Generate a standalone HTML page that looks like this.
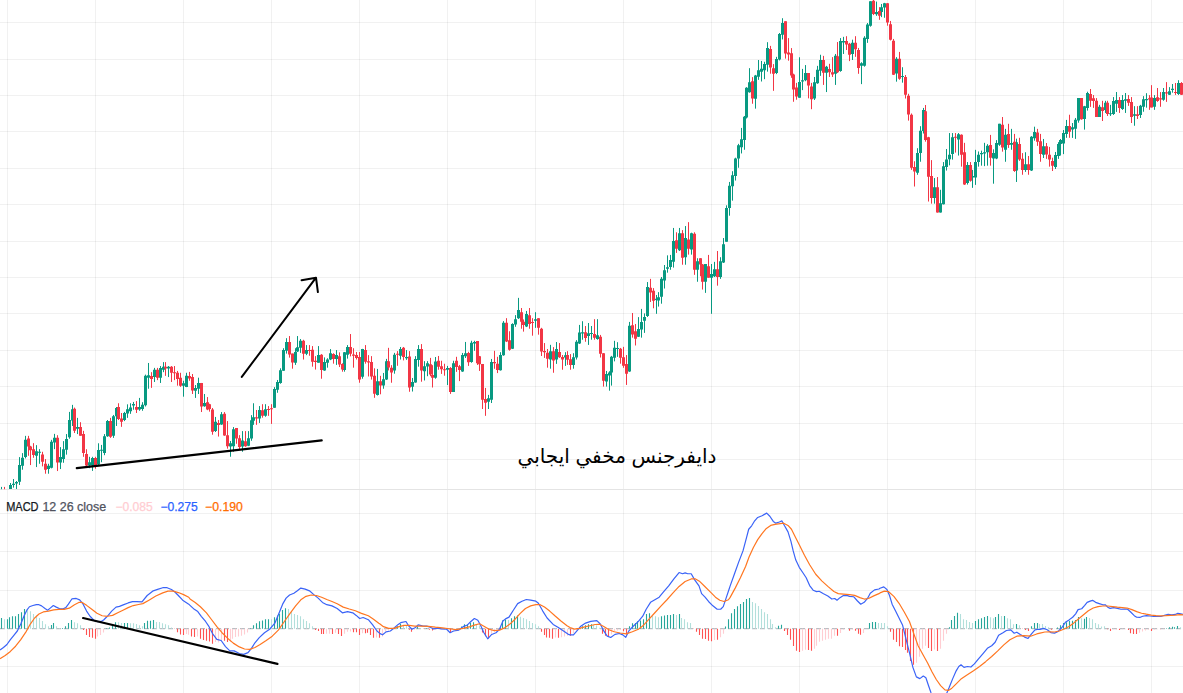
<!DOCTYPE html><html><head><meta charset="utf-8"><title>chart</title><style>html,body{margin:0;padding:0;background:#fff;overflow:hidden}body{width:1183px;height:693px;font-family:"Liberation Sans",sans-serif}</style></head><body><svg width="1183" height="693" viewBox="0 0 1183 693" style="display:block"><rect width="1183" height="693" fill="#fff"/><path d="M7.5 0V693M95.5 0V693M183.5 0V693M271.5 0V693M359.5 0V693M447.5 0V693M535.5 0V693M623.5 0V693M711.5 0V693M799.5 0V693M887.5 0V693M975.5 0V693M1063.5 0V693M1151.5 0V693M0 22.5H1183M0 59.5H1183M0 95.5H1183M0 131.5H1183M0 168.5H1183M0 204.5H1183M0 241.5H1183M0 277.5H1183M0 313.5H1183M0 350.5H1183M0 386.5H1183M0 423.5H1183M0 459.5H1183M0 513.5H1183M0 551.5H1183M0 590.5H1183M0 666.5H1183" stroke="#000" stroke-opacity="0.055" stroke-width="1" fill="none"/><path d="M0 489.5H1183" stroke="#e4e4e4" stroke-width="1" fill="none"/><path d="M1.5 486.9V489.2M10.5 483V488.98M13.5 479.02V487.65M16.5 481.01V488.98M19.5 457.1V484.99M22.5 453.12V469.72M25.5 435.86V458.43M36.5 445.15V467.07M39.5 449.14V463.75M48.5 463.75V473.71M51.5 439.84V468.39M54.5 433.86V449.14M60.5 447.14V469.06M63.5 441.13V462.77M66.5 434.09V454.65M69.5 411.9V438.74M72.5 404.87V425.97M77.5 417.86V434.09M89.5 456.82V468.18M92.5 456.82V470.89M98.5 443.29V464.94M101.5 444.91V462.23M104.5 434.09V455.19M107.5 420.02V436.8M113.5 414.94V437.88M116.5 407.03V425.97M124.5 411.9V421.1M127.5 404.33V417.86M130.5 403.25V413.85M133.5 401.95V409.74M139.5 397.92V410.79M142.5 402.21V410.79M145.5 374.62V406.5M148.5 362.97V388.72M154.5 367.88V381.98M160.5 366.04V382.96M163.5 362.11V372.17M168.5 366.04V377.07M183.5 380.75V396.69M186.5 372.78V387.13M195.5 385.04V397.92M198.5 377.69V393.99M204.5 393.99V406.75M215.5 416.93V432.01M221.5 412.07V424.83M230.5 440.97V456.73M233.5 427.08V451.75M242.5 431.12V451.75M248.5 431.12V446.13M251.5 415.17V440.78M253.5 403.26V424.83M259.5 406.07V422.95M265.5 404.19V416.76M274.5 387.13V407.84M277.5 379.98V392.78M280.5 368.3V383.74M283.5 348.22V370.81M286.5 338.18V353.62M295.5 348.22V364.91M297.5 336.05V351.99M300.5 339.06V352.86M306.5 345.08V355.12M318.5 346.09V362.66M324.5 357.38V370.81M327.5 358.26V367.68M330.5 349.1V360.14M336.5 350.1V364.91M344.5 351.99V371.69M347.5 345.08V358.64M362.5 348.85V378.72M377.5 368.93V395.54M383.5 372.95V388.76M386.5 358.89V379.98M394.5 352.86V373.7M400.5 346.97V359.52M406.5 350.1V359.89M412.5 377.97V391.52M415.5 356.13V382.74M418.5 345.08V366.67M424.5 361.15V380.48M427.5 361.15V376.21M435.5 357.01V378.72M447.5 365.9V385.06M453.5 360.75V391.89M462.5 352.96V371.89M465.5 341.95V357.99M471.5 340.75V362.78M474.5 340.75V350.81M488.5 394.88V409.01M491.5 358.95V403.02M500.5 352.2V370.6M503.5 321.1V355.75M512.5 323.26V349.03M515.5 315.13V326.81M518.5 297.87V318.94M526.5 310.94V327.07M535.5 312.21V327.83M550.5 344.84V368.7M556.5 342.04V363.88M565.5 352.2V365.91M573.5 353.21V368.7M576.5 340.14V359.56M579.5 324.91V343.95M582.5 321.23V339.73M588.5 323.01V344.93M591.5 326.03V339.73M597.5 319.18V339.73M606.5 370.96V386.58M609.5 371.23V390.68M611.5 355.89V385.62M614.5 340.82V361.37M617.5 342.19V356.85M629.5 321.92V371.92M638.5 317.12V336.99M641.5 308.9V337.67M644.5 313.42V332.88M647.5 282.05V316.97M656.5 295.04V313.8M658.5 292.15V306.58M661.5 277V303.69M664.5 265.02V288.54M667.5 255.35V272.67M670.5 254.92V269.78M673.5 227.94V267.62M679.5 227.94V251.02M685.5 226.06V264.73M691.5 232.7V254.63M697.5 258.24V281.76M705.5 264.01V292.87M711.5 264.01V313.8M714.5 261.85V277M720.5 257.23V278.87M723.5 238.04V263M726.5 205.32V241.69M729.5 181.95V215.71M732.5 171.21V200.65M735.5 157.71V180.56M738.5 143.85V167.75M741.5 127.91V153.44M744.5 116.01V149.75M746.5 87.18V118.47M749.5 68.16V92.7M755.5 74.91V108.65M758.5 60V79.86M761.5 60.96V81.51M764.5 61.78V79.18M767.5 42.19V71.64M776.5 56.85V74.11M779.5 33.01V60.41M782.5 18.22V39.45M799.5 57.26V97.67M802.5 68.9V90.14M805.5 65.07V81.23M814.5 76.98V100M817.5 65.87V83.81M820.5 54.76V75.87M826.5 65.87V92.06M835.5 53.97V84.92M840.5 38.1V71.75M843.5 36.83V53.97M852.5 39.68V60M861.5 62.22V84.13M864.5 36.19V66.67M867.5 23.02V42.86M870.5 1.27V26.67M876.5 1.59V15.87M881.5 3.97V17.14M884.5 2.86V17.78M896.5 57.13V81.66M902.5 67.23V82.67M917.5 148.21V174.79M920.5 126.2V161.74M923.5 107.93V133.53M934.5 178.05V203.65M940.5 189.79V212.61M943.5 162.07V204.46M946.5 149.02V170.55M949.5 133.05V165.33M952.5 133.05V159.62M958.5 133.05V155.55M967.5 162.07V184.57M972.5 169.89V187.83M975.5 149.84V184.9M978.5 151.47V166.63M981.5 150.65V165.66M984.5 142.83V166.14M987.5 144.13V165.66M993.5 149.35V183.69M996.5 140.12V159.16M999.5 123.81V145.89M1005.5 128.86V161.76M1011.5 128.86V149.78M1016.5 138.67V181.96M1025.5 152.24V171.86M1031.5 136.08V171M1034.5 126.7V140.69M1043.5 138.96V158.01M1055.5 151.95V168.98M1058.5 142.14V158.87M1060.5 138.96V155.56M1063.5 130.01V154.11M1066.5 119.91V137.81M1072.5 123.03V137.88M1075.5 117.98V138.89M1078.5 98.08V122.73M1084.5 105.86V129.6M1087.5 91.72V110.61M1099.5 104.85V116.97M1105.5 100.81V112.93M1110.5 104.85V115.96M1113.5 97.07V114.95M1116.5 92.02V111.92M1122.5 95.05V109.9M1125.5 93.03V112.93M1134.5 106.16V125.76M1140.5 104.85V117.98M1143.5 96.15V111.73M1146.5 93.2V107.66M1154.5 95.11V109.83M1163.5 88.01V100.74M1169.5 87.14V94.94M1172.5 84.03V92.68M1178.5 80.22V94.94" stroke="#089981" stroke-width="1" fill="none"/><path d="M4.5 486.9V489.2M28.5 435.86V455.78M30.5 445.82V465.07M33.5 443.16V457.77M42.5 451.79V466.4M45.5 459.1V473.71M57.5 435.19V471.05M74.5 407.58V433.01M80.5 422.19V435.71M83.5 430.84V456.82M86.5 449.24V467.64M95.5 456.82V468.72M110.5 417.86V437.88M118.5 403.25V420.02M121.5 412.99V426.84M136.5 401.08V412.99M151.5 372.17V387.86M157.5 367.88V380.14M165.5 362.11V375.85M171.5 366.04V381.98M174.5 366.04V380.14M177.5 370.94V385.66M180.5 372.78V386.88M189.5 371.92V380.75M192.5 374.01V393.99M201.5 382.96V412.02M207.5 397.06V410.18M209.5 403.8V411.65M212.5 407.97V434.71M218.5 419.99V436.55M224.5 412.07V435.81M227.5 421.08V448.66M236.5 428.02V443.78M239.5 435.15V449.6M245.5 431.12V446.78M256.5 410.01V424.83M262.5 404.19V417.7M268.5 406.07V415.83M271.5 404.19V423.89M289.5 336.05V357.63M292.5 353.62V368.68M303.5 339.81V359.52M309.5 345.08V355.75M312.5 346.09V366.67M315.5 356.13V369.56M321.5 354.12V378.72M333.5 353.24V363.66M339.5 352.36V367.05M342.5 363.28V371.69M350.5 334.04V356.38M353.5 348.22V367.68M356.5 351.99V359.52M359.5 351.99V382.74M365.5 345.08V363.66M368.5 355.12V376.46M371.5 356.13V379.6M374.5 368.3V397.8M380.5 375.83V394.29M388.5 347.84V370.44M391.5 365.17V382.74M397.5 351.11V365.79M403.5 346.97V360.4M409.5 351.11V391.78M421.5 344.08V381.73M430.5 357.89V376.21M432.5 365.17V387.51M438.5 355.96V369.73M441.5 360.75V373.92M444.5 363.74V375.72M450.5 367.1V393.92M456.5 356.8V371.89M459.5 364.94V381.11M468.5 351.77V365.9M477.5 340.99V364.94M479.5 355.96V370.93M482.5 363.98V409.01M485.5 387.93V415.84M494.5 350.81V368.77M497.5 356.8V373.08M506.5 318.18V342.04M509.5 331.25V350.68M521.5 308.02V328.72M523.5 319.45V331.63M529.5 308.02V328.72M532.5 318.18V335.7M538.5 318.18V334.68M541.5 327.83V356.01M544.5 343.06V357.91M547.5 349.03V367.68M553.5 347.12V372.76M559.5 343.06V357.91M562.5 354.99V369.72M567.5 351.18V364.89M570.5 354.1V369.72M585.5 326.03V341.78M594.5 319.18V339.73M600.5 334.93V357.53M603.5 353.15V386.58M620.5 347.95V363.7M623.5 346.85V367.81M626.5 355.07V384.93M632.5 313.01V337.67M635.5 323.97V345.48M650.5 278.87V301.96M653.5 288.11V308.31M676.5 232.27V252.9M682.5 230.1V264.73M688.5 222.16V254.63M694.5 232.27V274.83M700.5 258.24V276.28M702.5 264.01V289.55M708.5 254.92V277.72M717.5 251.02V285.66M752.5 77.12V103.74M770.5 45.89V73.7M773.5 64.11V90.82M785.5 21.23V58.63M788.5 38.08V60.68M791.5 48.08V77.81M793.5 73.7V101.78M796.5 82.88V99.73M808.5 73.01V98.36M811.5 82.86V109.21M823.5 55.87V84.92M829.5 63.81V76.98M832.5 57.14V76.98M837.5 42.06V73.02M846.5 36.19V50M849.5 42.86V61.11M855.5 36.19V56.83M858.5 47.94V73.81M873.5 0V15.08M879.5 7.14V19.84M887.5 3.17V25.71M890.5 20.95V40.48M893.5 38.95V75.02M899.5 51.93V79.78M905.5 75.02V98.54M908.5 93.78V120.62M911.5 113.48V169.89M914.5 161.25V186.53M925.5 105V141.69M928.5 136.8V201.53M931.5 160.11V203.65M937.5 177.07V212.61M955.5 133.05V152.61M961.5 134.35V166.63M964.5 142.83V184.9M970.5 162.07V181.63M990.5 134.92V165.66M1002.5 117.03V151.66M1008.5 123.81V147.91M1014.5 133.91V171.86M1019.5 137.81V160.89M1022.5 153.1V174.75M1028.5 155.99V174.75M1037.5 128.86V145.89M1040.5 133.91V161.76M1046.5 143V158.87M1049.5 146.9V166.67M1052.5 157.72V171M1069.5 114.72V137.81M1081.5 98.08V119.7M1090.5 88.99V106.87M1093.5 95.05V107.88M1096.5 98.08V116.97M1102.5 100.81V121.01M1107.5 100.81V115.96M1119.5 97.07V112.93M1128.5 95.05V105.86M1131.5 97.07V123.03M1137.5 106.16V118.99M1149.5 95.11V109.83M1151.5 85.15V107.4M1157.5 88.01V101.86M1160.5 92.08V106.8M1166.5 82.12V101.86M1175.5 82.99V94.94M1181.5 82.12V94.94" stroke="#f23645" stroke-width="1" fill="none"/><path d="M9 484.99h3V488.98h-3zM12 483.67h3V484.99h-3zM15 482.07h3V483.4h-3zM18 465.07h3V481.67h-3zM21 457.77h3V465.74h-3zM24 439.84h3V457.1h-3zM35 451.13h3V455.78h-3zM38 451.79h3V452.86h-3zM47 465.74h3V469.06h-3zM50 441.83h3V467.73h-3zM53 437.85h3V442.5h-3zM59 457.1h3V462.42h-3zM62 449.24h3V458.98h-3zM65 438.96h3V449.78h-3zM68 420.02h3V437.34h-3zM71 409.2h3V420.56h-3zM76 427.06h3V428.68h-3zM88 462.23h3V465.48h-3zM91 457.9h3V465.48h-3zM97 450h3V464.39h-3zM100 449.78h3V450.87h-3zM103 436.26h3V453.03h-3zM106 421.1h3V436.26h-3zM112 416.23h3V435.71h-3zM115 408.12h3V416.23h-3zM123 412.99h3V420.02h-3zM126 409.2h3V413.53h-3zM129 407.58h3V411.36h-3zM132 404.11h3V405.41h-3zM138 407.12h3V409.57h-3zM141 404.66h3V408.95h-3zM144 375.85h3V405.28h-3zM147 375.23h3V377.69h-3zM153 369.71h3V377.07h-3zM159 367.88h3V377.69h-3zM162 366.65h3V369.71h-3zM167 366.65h3V368.49h-3zM182 383.2h3V385.66h-3zM185 375.85h3V386.88h-3zM194 388.11h3V390.81h-3zM197 382.96h3V388.72h-3zM203 403.07h3V406.26h-3zM214 421.83h3V431.03h-3zM220 414.23h3V424.55h-3zM229 443.31h3V446.59h-3zM232 429.24h3V446.13h-3zM241 440.5h3V446.59h-3zM247 438.34h3V445.66h-3zM250 420.14h3V438.62h-3zM252 417.33h3V420.8h-3zM258 410.01h3V418.45h-3zM264 409.26h3V415.83h-3zM273 389.01h3V407.84h-3zM276 382.11h3V389.64h-3zM279 370.19h3V382.99h-3zM282 350.1h3V370.81h-3zM285 341.94h3V350.73h-3zM294 351.99h3V362.66h-3zM296 347.34h3V351.61h-3zM299 340.69h3V347.84h-3zM305 350.1h3V353.87h-3zM317 355.12h3V362.66h-3zM323 362.03h3V370.44h-3zM326 359.52h3V362.66h-3zM329 353.24h3V359.52h-3zM335 355.12h3V358.89h-3zM343 352.36h3V369.94h-3zM346 346.97h3V354.87h-3zM361 349.1h3V376.71h-3zM376 381.23h3V395.04h-3zM382 379.22h3V385.5h-3zM385 361.15h3V379.6h-3zM393 354.87h3V370.44h-3zM399 349.1h3V355.75h-3zM405 357.01h3V358.26h-3zM411 382.11h3V386.75h-3zM414 358.89h3V382.49h-3zM417 349.1h3V359.89h-3zM423 366.17h3V371.19h-3zM426 363.28h3V366.42h-3zM434 361.4h3V377.72h-3zM446 367.93h3V369.73h-3zM452 363.14h3V391.89h-3zM461 355.12h3V371.53h-3zM464 353.2h3V356.32h-3zM470 342.78h3V361.95h-3zM473 341.95h3V343.38h-3zM487 398.23h3V401.83h-3zM490 361.95h3V399.67h-3zM499 354.99h3V370.22h-3zM502 322.75h3V355.37h-3zM511 324.02h3V348.64h-3zM514 319.2h3V324.53h-3zM517 310.06h3V318.18h-3zM525 314.12h3V326.56h-3zM534 319.2h3V320.72h-3zM549 351.18h3V359.56h-3zM555 349.03h3V359.56h-3zM564 355.37h3V357.53h-3zM572 357.28h3V364.89h-3zM575 341.79h3V357.53h-3zM578 332.52h3V343.57h-3zM581 332.19h3V333.56h-3zM587 333.15h3V335.89h-3zM590 332.88h3V333.97h-3zM596 335.34h3V339.04h-3zM605 373.97h3V381.51h-3zM608 372.6h3V375.62h-3zM610 356.85h3V372.6h-3zM613 347.67h3V357.81h-3zM616 347.95h3V349.04h-3zM628 325.75h3V371.51h-3zM637 329.04h3V336.71h-3zM640 321.92h3V329.45h-3zM643 317.12h3V320.82h-3zM646 287.1h3V315.96h-3zM655 298.64h3V300.09h-3zM657 297.2h3V300.52h-3zM660 278.87h3V296.77h-3zM663 270.22h3V280.61h-3zM666 267.33h3V268.77h-3zM669 260.12h3V266.9h-3zM672 240.92h3V261.85h-3zM678 233.28h3V250.3h-3zM684 238.04h3V257.23h-3zM690 233.28h3V249.58h-3zM696 261.13h3V269.78h-3zM704 264.01h3V281.76h-3zM710 274.11h3V277.72h-3zM713 269.35h3V276.28h-3zM719 261.13h3V277h-3zM722 244.24h3V262.57h-3zM725 207.92h3V241.69h-3zM728 185.76h3V207.92h-3zM731 175.37h3V186.28h-3zM734 158.57h3V175.89h-3zM737 145.24h3V158.57h-3zM740 139.33h3V147.3h-3zM743 116.63h3V139.94h-3zM745 87.79h3V117.61h-3zM748 82.27h3V92.33h-3zM754 75.52h3V98.83h-3zM757 70.27h3V76.85h-3zM760 68.63h3V71.64h-3zM763 64.11h3V70.27h-3zM766 48.08h3V64.79h-3zM775 59.04h3V73.01h-3zM778 33.97h3V59.59h-3zM781 23.01h3V34.66h-3zM798 81.92h3V97.67h-3zM801 80.14h3V81.51h-3zM804 73.01h3V80.14h-3zM813 82.22h3V98.41h-3zM816 69.84h3V83.33h-3zM819 60h3V70.63h-3zM825 66.67h3V72.7h-3zM834 55.87h3V73.81h-3zM839 40.95h3V71.11h-3zM842 40.95h3V42.54h-3zM851 42.86h3V53.97h-3zM860 63.17h3V65.87h-3zM863 37.78h3V65.87h-3zM866 24.6h3V38.89h-3zM869 1.27h3V25.71h-3zM875 11.9h3V14.29h-3zM880 7.14h3V11.9h-3zM883 3.17h3V7.62h-3zM895 58.86h3V73.58h-3zM901 75.89h3V76.9h-3zM916 153.1h3V172.67h-3zM919 130.76h3V153.1h-3zM922 109.89h3V131.09h-3zM933 187.34h3V197.94h-3zM939 203.16h3V212.61h-3zM942 166.14h3V204.14h-3zM945 159.62h3V166.96h-3zM948 154.73h3V159.13h-3zM951 137.28h3V153.92h-3zM957 134.35h3V139.57h-3zM966 165h3V182.94h-3zM971 175.93h3V177.56h-3zM974 162.07h3V177.56h-3zM977 154.73h3V162.07h-3zM980 153.1h3V154.24h-3zM983 152.29h3V153.59h-3zM986 145.76h3V152.29h-3zM992 153.1h3V158.44h-3zM995 143h3V158.44h-3zM998 123.81h3V144.73h-3zM1004 134.63h3V149.78h-3zM1010 143h3V144.73h-3zM1015 142.14h3V170.42h-3zM1024 164.21h3V169.99h-3zM1030 136.8h3V170.42h-3zM1033 132.03h3V138.24h-3zM1042 146.18h3V154.83h-3zM1054 155.12h3V167.1h-3zM1057 144.01h3V155.99h-3zM1059 140.12h3V144.01h-3zM1062 132.9h3V143.58h-3zM1065 125.97h3V133.91h-3zM1071 127.37h3V129.6h-3zM1074 119.7h3V128.79h-3zM1077 98.08h3V120.51h-3zM1083 106.16h3V118.99h-3zM1086 93.03h3V107.88h-3zM1098 106.87h3V116.97h-3zM1104 102.83h3V109.9h-3zM1109 113.23h3V114.24h-3zM1112 101.11h3V113.94h-3zM1115 100.1h3V103.84h-3zM1121 100.1h3V108.89h-3zM1124 99.29h3V100.81h-3zM1133 114.24h3V115.66h-3zM1139 105.86h3V114.95h-3zM1142 99.26h3V106.8h-3zM1145 99h3V100.13h-3zM1153 97.88h3V106.8h-3zM1162 92.08h3V99.87h-3zM1168 91.21h3V94.68h-3zM1171 88.87h3V89.91h-3zM1177 82.99h3V94.07h-3z" fill="#089981"/><path d="M27 438.51h3V446.48h-3zM29 446.48h3V450.2h-3zM32 449.14h3V455.11h-3zM41 454.45h3V461.75h-3zM44 463.75h3V469.72h-3zM56 437.85h3V462.42h-3zM73 408.66h3V430.84h-3zM79 427.06h3V435.71h-3zM82 434.09h3V453.03h-3zM85 454.11h3V465.48h-3zM94 457.9h3V464.94h-3zM109 421.1h3V436.8h-3zM117 407.03h3V418.94h-3zM120 418.4h3V421.65h-3zM135 407.03h3V409.74h-3zM150 376.09h3V378.91h-3zM156 369.71h3V377.69h-3zM164 366.65h3V368.49h-3zM170 366.65h3V372.78h-3zM173 372.17h3V373.17h-3zM176 372.78h3V378.91h-3zM179 377.69h3V385.66h-3zM188 376.09h3V378.54h-3zM191 377.07h3V390.56h-3zM200 382.96h3V406.5h-3zM206 402.21h3V409.57h-3zM208 404.29h3V408.95h-3zM211 409.57h3V431.64h-3zM217 423.06h3V424.9h-3zM223 413.76h3V435.53h-3zM226 435.15h3V446.13h-3zM235 428.02h3V438.62h-3zM238 438.15h3V447.06h-3zM244 441.15h3V446.13h-3zM255 417.33h3V418.45h-3zM261 410.2h3V415.83h-3zM267 409.07h3V410.07h-3zM270 408.13h3V409.13h-3zM288 341.94h3V354.5h-3zM291 353.62h3V362.4h-3zM302 340.69h3V353.87h-3zM308 350.1h3V351.11h-3zM311 349.85h3V361.65h-3zM314 360.77h3V362.03h-3zM320 354.87h3V369.94h-3zM332 354.12h3V358.89h-3zM338 356.13h3V364.54h-3zM341 363.91h3V369.56h-3zM349 346.97h3V353.87h-3zM352 354.5h3V355.75h-3zM355 355.12h3V357.89h-3zM358 357.01h3V379.6h-3zM364 350.1h3V361.65h-3zM367 361.15h3V362.4h-3zM370 362.03h3V376.46h-3zM373 375.83h3V393.78h-3zM379 381.23h3V385.5h-3zM387 361.15h3V367.43h-3zM390 367.68h3V372.45h-3zM396 353.87h3V354.87h-3zM402 347.84h3V357.01h-3zM408 356.38h3V387.51h-3zM420 349.1h3V370.44h-3zM429 364.16h3V374.58h-3zM431 374.96h3V377.72h-3zM437 360.75h3V366.74h-3zM440 366.14h3V369.13h-3zM443 369.13h3V370.13h-3zM449 367.93h3V391.89h-3zM455 360.75h3V367.1h-3zM458 366.14h3V369.97h-3zM467 352.96h3V362.31h-3zM476 340.99h3V363.14h-3zM478 356.32h3V364.34h-3zM481 363.98h3V399.67h-3zM484 399.07h3V402.66h-3zM493 361.95h3V363.14h-3zM496 363.74h3V369.97h-3zM505 322.75h3V341.41h-3zM508 340.14h3V349.66h-3zM520 312.21h3V321.73h-3zM522 321.73h3V324.91h-3zM528 315.13h3V324.02h-3zM531 321.99h3V323h-3zM537 318.18h3V327.83h-3zM540 328.72h3V351.56h-3zM543 350.93h3V352.2h-3zM546 352.83h3V358.8h-3zM552 351.18h3V360.45h-3zM558 351.94h3V357.28h-3zM561 357.02h3V359.56h-3zM566 354.99h3V359.81h-3zM569 359.18h3V364.89h-3zM584 332.19h3V338.08h-3zM593 333.97h3V337.67h-3zM599 336.71h3V353.7h-3zM602 353.15h3V380.82h-3zM619 348.63h3V357.81h-3zM622 357.26h3V365.75h-3zM625 364.11h3V373.7h-3zM631 325.34h3V334.52h-3zM634 331.23h3V338.63h-3zM649 287.82h3V292.44h-3zM652 290.71h3V300.81h-3zM675 240.2h3V248.86h-3zM681 233.28h3V257.81h-3zM687 239.48h3V248.86h-3zM693 233.71h3V269.78h-3zM699 258.24h3V264.44h-3zM701 264.44h3V281.76h-3zM707 266.18h3V277.72h-3zM716 269.35h3V277h-3zM751 81.29h3V98.47h-3zM769 49.04h3V67.53h-3zM772 68.22h3V73.7h-3zM784 21.23h3V53.56h-3zM787 52.47h3V54.52h-3zM790 53.15h3V75.48h-3zM792 74.38h3V89.45h-3zM795 87.4h3V96.58h-3zM807 73.01h3V85.62h-3zM810 86.51h3V99.21h-3zM822 60h3V72.7h-3zM828 69.05h3V72.22h-3zM831 72.22h3V74.6h-3zM836 56.35h3V72.22h-3zM845 40.95h3V44.44h-3zM848 43.65h3V54.76h-3zM854 42.86h3V49.21h-3zM857 50h3V67.94h-3zM872 0.79h3V13.97h-3zM878 11.11h3V15.87h-3zM886 3.17h3V22.54h-3zM889 24.13h3V39.68h-3zM892 40.82h3V74.73h-3zM898 58.86h3V78.77h-3zM904 76.9h3V94.65h-3zM907 95.66h3V114.42h-3zM910 114.78h3V167.78h-3zM913 166.96h3V171.53h-3zM924 111.2h3V140.06h-3zM927 137.28h3V176.74h-3zM930 175.93h3V197.94h-3zM936 187.34h3V212.61h-3zM954 136.8h3V137.8h-3zM960 134.68h3V154.73h-3zM963 152.29h3V184.57h-3zM969 165h3V180.82h-3zM989 145.02h3V157.72h-3zM1001 124.82h3V147.62h-3zM1007 133.91h3V145.02h-3zM1013 141.85h3V171h-3zM1018 144.01h3V159.45h-3zM1021 158.87h3V169.99h-3zM1027 164.21h3V169.99h-3zM1036 132.47h3V141.85h-3zM1039 141.13h3V154.11h-3zM1045 146.18h3V154.55h-3zM1048 154.83h3V159.45h-3zM1051 160.89h3V165.66h-3zM1068 125.97h3V131.75h-3zM1080 98.08h3V119.29h-3zM1089 94.04h3V100.81h-3zM1092 98.28h3V101.11h-3zM1095 100.81h3V116.97h-3zM1101 107.17h3V110.91h-3zM1106 102.83h3V113.94h-3zM1118 100.1h3V107.88h-3zM1127 99.09h3V102.83h-3zM1130 102.12h3V116.97h-3zM1136 114.24h3V115.96h-3zM1148 98.14h3V99.44h-3zM1150 97.53h3V107.4h-3zM1156 97.27h3V101h-3zM1159 98.14h3V99.44h-3zM1165 92.34h3V93.55h-3zM1174 92.08h3V93.08h-3zM1180 82.99h3V94.68h-3z" fill="#f23645"/><path d="M0 628.7H1183" stroke="#9598a1" stroke-width="1" stroke-dasharray="5 3" fill="none" opacity="0.8"/><path d="M4.5 628.7V619.19M27.5 628.7V610.32M30.5 628.7V611.2M33.5 628.7V614.12M36.5 628.7V615.39M39.5 628.7V617.92M42.5 628.7V621.09M45.5 628.7V624.26M48.5 628.7V626.16M56.5 628.7V626.16M59.5 628.7V628.07M74.5 628.7V622.36M77.5 628.7V623.37M80.5 628.7V625.15M118.5 628.7V622.36M121.5 628.7V622.99M130.5 628.7V623.37M133.5 628.7V623.37M136.5 628.7V623.88M139.5 628.7V625.15M142.5 628.7V626.16M156.5 628.7V622.11M159.5 628.7V622.11M162.5 628.7V623.37M165.5 628.7V624.26M168.5 628.7V625.15M171.5 628.7V627.43M271.5 628.7V619.19M288.5 628.7V609.05M291.5 628.7V611.96M294.5 628.7V614.12M297.5 628.7V615.01M300.5 628.7V616.27M303.5 628.7V619.19M306.5 628.7V621.09M309.5 628.7V623.37M312.5 628.7V626.16M403.5 628.7V624.64M406.5 628.7V624.9M420.5 628.7V628.07M476.5 628.7V624.26M479.5 628.7V625.53M508.5 628.7V620.08M520.5 628.7V616.65M523.5 628.7V617.92M526.5 628.7V619.19M529.5 628.7V621.09M532.5 628.7V622.99M535.5 628.7V624.26M538.5 628.7V626.16M593.5 628.7V624.9M596.5 628.7V625.53M599.5 628.7V627.69M652.5 628.7V616.02M655.5 628.7V616.27M658.5 628.7V617.29M676.5 628.7V615.01M681.5 628.7V617.92M684.5 628.7V619.19M687.5 628.7V622.36M690.5 628.7V622.99M752.5 628.7V602.07M755.5 628.7V603.34M758.5 628.7V605.88M761.5 628.7V609.05M764.5 628.7V612.22M767.5 628.7V614.12M770.5 628.7V619.19M772.5 628.7V623.88M775.5 628.7V627.18M878.5 628.7V623.12M881.5 628.7V623.12M884.5 628.7V623.12M887.5 628.7V626.16M960.5 628.7V614.12M963.5 628.7V619.19M966.5 628.7V620.08M969.5 628.7V622.11M972.5 628.7V622.99M990.5 628.7V617.29M993.5 628.7V618.3M1001.5 628.7V616.02M1007.5 628.7V618.3M1010.5 628.7V619.19M1013.5 628.7V624.26M1019.5 628.7V625.15M1039.5 628.7V623.88M1042.5 628.7V623.88M1045.5 628.7V625.91M1048.5 628.7V627.18M1081.5 628.7V618.3M1089.5 628.7V617.92M1092.5 628.7V619.19M1095.5 628.7V622.99M1098.5 628.7V624.26M1101.5 628.7V626.42M1104.5 628.7V626.16M1180.5 628.7V627.18" stroke="#b2dfdb" stroke-width="1.1" fill="none"/><path d="M97.5 628.7V636.56M100.5 628.7V635.04M103.5 628.7V632.5M186.5 628.7V634.03M188.5 628.7V634.79M197.5 628.7V636.56M215.5 628.7V642.01M218.5 628.7V642.39M221.5 628.7V640.36M230.5 628.7V641.63M232.5 628.7V638.84M235.5 628.7V636.94M238.5 628.7V636.56M241.5 628.7V635.67M244.5 628.7V634.41M247.5 628.7V632.5M326.5 628.7V633.77M329.5 628.7V633.77M335.5 628.7V632.76M344.5 628.7V633.77M347.5 628.7V631.87M350.5 628.7V631.49M362.5 628.7V633.14M376.5 628.7V637.58M382.5 628.7V636.56M385.5 628.7V631.87M388.5 628.7V630.22M391.5 628.7V629.33M414.5 628.7V629.71M435.5 628.7V629.71M438.5 628.7V629.33M441.5 628.7V629.33M444.5 628.7V629.33M447.5 628.7V628.95M453.5 628.7V629.97M456.5 628.7V629.33M491.5 628.7V633.77M494.5 628.7V631.87M497.5 628.7V630.6M555.5 628.7V637.58M561.5 628.7V637.32M564.5 628.7V636.56M567.5 628.7V635.67M573.5 628.7V633.14M576.5 628.7V630.6M611.5 628.7V634.41M614.5 628.7V631.87M617.5 628.7V630.6M620.5 628.7V629.97M714.5 628.7V640.11M720.5 628.7V637.32M723.5 628.7V633.77M802.5 628.7V650.81M805.5 628.7V649.8M814.5 628.7V648.79M816.5 628.7V645.74M819.5 628.7V641.68M822.5 628.7V640.67M825.5 628.7V639.66M828.5 628.7V638.84M831.5 628.7V638.64M834.5 628.7V635.8M840.5 628.7V632.96M843.5 628.7V629.71M852.5 628.7V629.71M863.5 628.7V632.96M916.5 628.7V662.68M919.5 628.7V656.85M922.5 628.7V648.73M925.5 628.7V645.82M934.5 628.7V649.62M940.5 628.7V648.73M943.5 628.7V640.75M946.5 628.7V633.77M1054.5 628.7V629.08M1113.5 628.7V629.33M1116.5 628.7V629.71M1122.5 628.7V629.33M1125.5 628.7V629.33M1139.5 628.7V632.76M1142.5 628.7V631.49M1145.5 628.7V630.6M1148.5 628.7V629.71M1154.5 628.7V629.71M1157.5 628.7V629.33M1160.5 628.7V629.71M1163.5 628.7V628.95" stroke="#ffcdd2" stroke-width="1.1" fill="none"/><path d="M1.5 628.7V617.92M7.5 628.7V619.19M9.5 628.7V617.29M12.5 628.7V616.27M15.5 628.7V616.27M18.5 628.7V614.12M21.5 628.7V612.22M24.5 628.7V609.05M51.5 628.7V624.9M53.5 628.7V622.99M62.5 628.7V628.07M65.5 628.7V626.16M68.5 628.7V622.99M71.5 628.7V620.08M106.5 628.7V628.32M109.5 628.7V627.43M112.5 628.7V624.9M115.5 628.7V622.36M124.5 628.7V622.99M127.5 628.7V622.99M144.5 628.7V622.99M147.5 628.7V620.84M150.5 628.7V620.84M153.5 628.7V620.08M250.5 628.7V628.32M253.5 628.7V625.15M256.5 628.7V623.37M259.5 628.7V621.35M262.5 628.7V620.46M265.5 628.7V619.19M268.5 628.7V619.19M274.5 628.7V617.29M277.5 628.7V615.39M279.5 628.7V613.74M282.5 628.7V609.93M285.5 628.7V608.16M394.5 628.7V628.07M397.5 628.7V626.16M400.5 628.7V623.88M417.5 628.7V626.42M426.5 628.7V628.32M461.5 628.7V626.42M464.5 628.7V624.26M467.5 628.7V624.26M470.5 628.7V622.99M473.5 628.7V622.36M500.5 628.7V627.43M502.5 628.7V620.46M505.5 628.7V619.57M511.5 628.7V618.3M514.5 628.7V616.27M517.5 628.7V615.39M579.5 628.7V628.07M582.5 628.7V626.16M585.5 628.7V625.15M588.5 628.7V624.26M591.5 628.7V624.26M629.5 628.7V626.16M632.5 628.7V623.37M635.5 628.7V622.99M637.5 628.7V621.35M640.5 628.7V620.46M643.5 628.7V619.19M646.5 628.7V614.12M649.5 628.7V613.23M661.5 628.7V616.27M664.5 628.7V615.39M667.5 628.7V615.01M670.5 628.7V615.01M673.5 628.7V614.12M679.5 628.7V614.12M725.5 628.7V626.42M728.5 628.7V619.19M731.5 628.7V613.23M734.5 628.7V609.05M737.5 628.7V606.13M740.5 628.7V603.98M743.5 628.7V602.07M746.5 628.7V598.9M749.5 628.7V598.02M778.5 628.7V625.86M781.5 628.7V624.85M869.5 628.7V623.12M872.5 628.7V622.11M875.5 628.7V622.11M949.5 628.7V627.18M951.5 628.7V620.08M954.5 628.7V616.02M957.5 628.7V612.85M975.5 628.7V621.09M978.5 628.7V619.19M981.5 628.7V618.3M984.5 628.7V617.04M987.5 628.7V616.02M995.5 628.7V617.04M998.5 628.7V614.12M1004.5 628.7V616.02M1016.5 628.7V623.88M1031.5 628.7V626.16M1034.5 628.7V622.99M1037.5 628.7V622.99M1057.5 628.7V627.43M1060.5 628.7V625.15M1063.5 628.7V622.99M1066.5 628.7V622.36M1069.5 628.7V620.84M1072.5 628.7V620.84M1075.5 628.7V620.08M1078.5 628.7V617.04M1084.5 628.7V618.81M1086.5 628.7V617.04M1166.5 628.7V628.32M1169.5 628.7V627.18M1172.5 628.7V626.8M1174.5 628.7V627.18M1177.5 628.7V625.91" stroke="#26a69a" stroke-width="1.1" fill="none"/><path d="M83.5 628.7V629.97M86.5 628.7V635.04M89.5 628.7V636.94M92.5 628.7V637.83M95.5 628.7V638.84M174.5 628.7V629.08M177.5 628.7V632.25M180.5 628.7V634.41M183.5 628.7V635.04M191.5 628.7V636.56M194.5 628.7V636.94M200.5 628.7V638.84M203.5 628.7V640.11M206.5 628.7V640.75M209.5 628.7V641.38M212.5 628.7V643.66M224.5 628.7V640.75M227.5 628.7V642.01M315.5 628.7V629.97M318.5 628.7V630.98M321.5 628.7V634.03M323.5 628.7V634.03M332.5 628.7V634.03M338.5 628.7V634.03M341.5 628.7V636.05M353.5 628.7V632.25M356.5 628.7V632.25M359.5 628.7V635.04M365.5 628.7V633.14M367.5 628.7V632.76M370.5 628.7V635.04M373.5 628.7V637.83M379.5 628.7V637.83M409.5 628.7V629.71M411.5 628.7V631.87M423.5 628.7V629.08M429.5 628.7V629.71M432.5 628.7V630.6M450.5 628.7V632.25M482.5 628.7V632.5M485.5 628.7V636.31M488.5 628.7V638.21M541.5 628.7V631.87M544.5 628.7V635.04M546.5 628.7V637.58M549.5 628.7V637.83M552.5 628.7V638.84M558.5 628.7V637.83M570.5 628.7V635.67M602.5 628.7V633.77M605.5 628.7V635.67M608.5 628.7V636.94M623.5 628.7V631.24M626.5 628.7V634.41M693.5 628.7V629.08M696.5 628.7V631.87M699.5 628.7V635.04M702.5 628.7V638.84M705.5 628.7V639.1M708.5 628.7V640.75M711.5 628.7V641.13M717.5 628.7V639.86M784.5 628.7V630.93M787.5 628.7V634.99M790.5 628.7V639.86M793.5 628.7V645.94M796.5 628.7V650.81M799.5 628.7V652.03M808.5 628.7V650M811.5 628.7V650.81M837.5 628.7V635.8M849.5 628.7V630.73M855.5 628.7V630.73M858.5 628.7V633.77M860.5 628.7V634.79M890.5 628.7V631.87M893.5 628.7V639.86M896.5 628.7V642.01M899.5 628.7V646.2M902.5 628.7V647.08M905.5 628.7V650M907.5 628.7V652.79M910.5 628.7V661.03M913.5 628.7V664.84M928.5 628.7V647.97M931.5 628.7V650.89M937.5 628.7V650.89M1022.5 628.7V629.08M1025.5 628.7V629.97M1028.5 628.7V630.98M1051.5 628.7V629.71M1107.5 628.7V629.33M1110.5 628.7V630.98M1119.5 628.7V629.97M1128.5 628.7V629.97M1130.5 628.7V633.14M1133.5 628.7V634.03M1136.5 628.7V634.03M1151.5 628.7V630.98" stroke="#ff5252" stroke-width="1.1" fill="none"/><path d="M0 650.04L3.46 647.45L6.93 644.5L10.39 639.65L13.85 635.32L17.32 631L20.78 624.07L24.24 615.41L26.84 610.22L29.44 606.75L32.9 605.54L36.36 604.68L38.96 604.68L41.56 605.89L45.02 608.48L47.62 610.22L50.22 608.14L53.33 605.54L56.28 607.1L59.74 608.83L63.2 608.83L65.8 607.62L68.4 604.16L71.86 598.96L76.19 598.44L79.65 599.83L83.12 604.16L86.58 611.08L90.04 616.28L94.37 620.61L97.84 621.65L101.3 621.47L103.9 619.74L107.36 616.28L111.69 611.08L116.02 607.1L119.48 606.41L123.81 604.68L128.14 602.94L132.47 601.56L136.8 601.56L141.99 601.9L147.19 595.5L153.25 590.82L157.58 589.44L162.77 587.71L167.1 587.71L171.43 589.44L174.89 592.03L178.35 595.5L182.68 600.17L188.74 604.16L190 605.37L194.33 609.35L197.79 611.6L201.26 616.28L205.58 621.47L209.05 626.67L212.51 633.59L216.84 639.31L221.17 640.52L225.5 646.58L229.83 650.91L234.16 650.91L239.35 653.51L243.68 654.37L248.01 652.64L251.47 648.31L254.94 642.77L259.26 637.58L264.46 632.73L269.65 629.26L274.85 623.2L279.18 612.81L282.64 604.16L286.1 598.1L289.57 594.98L293.9 593.25L297.36 590.82L300.82 588.05L305.15 589.09L309.48 590.82L313.81 594.63L318.14 598.1L322.47 602.42L326.8 604.68L331.99 605.89L337.19 608.48L342.38 612.81L347.58 611.6L352.77 612.81L356.23 615.41L359.7 618.53L363.16 617.49L368.35 619.74L372.68 624.94L377.01 631L380 633.59L382.6 634.81L386.06 631.86L390.39 631L394.72 627.53L398.18 624.42L400.78 622.68L405.97 621.47L408.57 625.8L412.03 629.26L415.5 627.53L418.1 624.94L422.42 625.8L426.75 626.15L430.22 627.19L433.68 628.92L437.14 628.05L441.47 628.92L446.67 629.26L450.13 632.73L453.59 631L458.79 630.13L463.12 626.67L467.45 624.94L470.91 621.47L474.37 618.53L477.84 620.26L480.43 624.94L483.9 632.73L487.71 638.79L491.69 634.46L496.02 632.73L499.48 629.26L502.94 620.95L505.54 618.87L509 617.14L513.33 610.22L517.66 603.64L521.99 601.21L526.32 599.48L530.65 600.17L535.84 601.21L538.44 603.29L542.77 611.08L547.1 618.01L553.16 624.42L558.35 627.53L563.55 631L567.88 634.11L570 634.89L573.46 634.89L576.93 630.91L580.39 626.58L585.58 623.12L590.78 621.39L596.84 620.69L600.3 623.98L603.77 630.91L607.23 636.1L610.69 637.49L615.02 634.37L619.35 633.51L622.81 634.89L625.76 637.32L628.87 630.91L633.2 626.23L638.4 621.39L642.73 616.19L646.19 609.26L650.52 602.34L654.85 599.74L659.18 597.14L663.51 591.95L668.7 585.89L673.9 578.96L679.09 572.55L682.55 573.77L685.15 572.9L687.75 573.77L691.21 573.77L694.68 579.83L699 585.89L701.6 593.68L705.06 597.14L708.53 601.47L712.86 605.8L717.19 609.26L720.65 609.26L723.25 606.67L725.84 598.87L729.31 588.48L730 586.39L734.33 574.26L738.66 562.14L742.99 550.89L746.45 537.9L748.7 529.24L751.65 525.78L754.24 521.45L757.71 517.47L762.03 515.74L766.71 513.14L769.83 516.26L773.29 521.45L775.89 523.18L779.35 521.97L781.95 520.93L784.55 525.78L788.01 531.84L790.95 541.36L793.2 550.89L795.8 560.06L799.26 567.34L802.73 572.53L806.19 577.73L809.65 585.52L813.12 590.19L816.58 591.58L819.18 591.23L823.51 593.66L827.84 595.91L831.82 599.03L834.76 598.51L837.01 600.24L839.96 597.64L843.42 595.56L846.88 595.39L849.48 596.43L853.81 596.77L857.27 600.76L860.74 604.22L864.2 602.32L867.66 598.16L870.26 593.31L874.59 589.85L878.92 588.98L880 588.24L883.81 586.85L886.93 589.45L889.52 595.51L892.12 604.17L895.58 611.1L899.05 618.02L902.51 624.95L905.97 638.8L909.44 652.65L912.9 667.37L916.36 676.9L919.83 678.63L923.29 676.03L925.89 677.76L928.48 685.55L931.08 693L935.41 699.41L939.74 702L944.07 699.41L949.26 687.29L952.73 678.63L956.19 670.84L958.79 666.51L961.04 664.77L963.98 667.37L967.45 666.51L970.91 667.03L974.37 663.91L978.7 658.71L983.03 653.52L987.36 648.32L991.69 645.73L995.15 642.26L998.61 635.34L1002.94 632.74L1006.41 630.49L1010.74 629.8L1014.2 633.26L1016.8 632.22L1020.26 634.47L1024.59 637.07L1028.05 638.45L1031.52 633.95L1034.98 629.8L1038.44 629.28L1040 629.32L1043.63 628.35L1047.25 629.8L1050.88 632.58L1054.51 633.19L1058.13 631.37L1061.76 627.75L1065.38 622.31L1069.01 619.89L1072.64 617.23L1075.66 613.85L1078.08 609.61L1081.7 608.77L1084.72 605.38L1087.14 602.36L1090.16 601.15L1092.58 600.31L1095.6 602.36L1099.23 603.57L1102.86 604.78L1105.27 604.78L1107.69 607.2L1110.11 608.41L1113.73 607.56L1117.36 608.41L1120.99 609.25L1124.61 609.01L1127.63 609.25L1130.66 612.03L1134.28 615.66L1136.7 617.23L1139.72 617.47L1142.74 616.26L1146.37 615.66L1150 616.02L1153.62 616.5L1157.25 616.26L1160.88 616.5L1164.5 615.3L1168.13 614.45L1171.75 614.81L1175.38 614.45L1177.8 613.24L1180.82 613.85L1183 614.45" stroke="#3a63f7" stroke-width="1.2" fill="none" stroke-linejoin="round"/><path d="M0 658.7L5.19 655.58L10.39 651.43L15.58 646.23L20.78 639.65L25.97 631.86L30.3 624.07L34.63 618.01L38.96 614.03L43.29 611.95L48.48 611.08L53.68 609.87L58.87 609.35L64.07 609.35L69.26 608.14L74.46 604.68L78.79 602.42L82.25 602.42L86.58 605.37L91.77 609.35L96.97 613.33L102.16 615.76L107.36 616.28L112.55 615.41L117.75 612.81L122.94 610.22L128.14 607.62L133.33 605.54L138.53 604.5L142.86 603.64L148.92 600.17L155.84 596.02L162.77 592.9L167.97 591.17L173.16 591.17L178.35 592.55L183.55 594.63L188.74 597.23L190 598.96L195.19 602.42L200.39 606.75L206.45 612.81L211.65 619.74L216.84 626.67L222.03 632.73L227.23 637.92L233.29 643.12L239.35 646.93L244.55 649L249.74 649.35L254.94 647.45L260.13 644.5L266.19 640.52L272.25 636.19L278.31 630.13L284.37 621.47L290.43 612.81L295.63 605.89L300.82 599.83L306.02 596.36L311.21 594.98L316.41 595.5L321.6 597.23L326.8 599.48L331.99 601.56L337.19 603.81L343.25 607.1L349.31 609L355.37 610.74L361.43 613.33L368.35 615.76L373.55 619.22L378.74 623.2L380 624.07L383.46 626.67L388.66 628.4L393.85 628.4L399.05 626.67L404.24 625.45L409.44 625.45L414.63 626.15L421.56 626.15L428.48 626.32L435.41 627.19L442.34 627.88L449.26 628.74L456.19 629.61L463.12 628.4L470.04 626.67L475.24 624.94L479.57 623.72L483.9 626.15L489.09 629.26L494.29 630.65L499.48 630.13L504.68 627.88L509.87 624.07L515.06 619.22L520.26 613.33L525.45 608.48L530.65 605.89L535.84 604.68L540.17 604.68L544.5 607.1L549.7 611.08L554.89 615.76L560.95 620.95L567.01 625.8L570 627.45L574.33 629.18L579.52 628.31L584.72 626.93L589.91 625.71L595.11 624.5L599.44 624.33L603.77 626.58L608.96 629.7L614.16 631.77L620.22 632.99L626.28 633.85L632.34 631.77L638.4 629.18L643.59 625.19L648.79 619.31L654.85 612.73L660.91 606.15L666.97 599.74L673.03 592.81L679.09 586.41L685.15 581.56L691.21 578.96L695.54 578.96L699.87 581.56L705.06 586.75L710.26 591.95L715.45 597.14L719.78 600.26L724.11 601.47L728.44 599.74L730 597.64L735.19 588.12L740.39 577.73L745.58 566.47L749.05 556.95L753.38 547.42L757.71 539.63L762.03 533.57L766.36 528.38L770.69 525.43L775.02 524.39L780.22 523.7L783.68 523.18L788.01 525.43L791.47 529.24L794.94 536.17L799.26 544.83L804.46 555.22L809.65 564.74L815.71 574.26L821.77 580.84L827.84 586.39L833.9 591.58L838.23 593.66L843.42 594.18L849.48 594.7L854.68 595.39L859.87 597.64L864.2 599.03L868.53 598.51L873.72 595.91L878.92 593.66L880 592.91L884.33 591.18L888.66 591.7L893.85 596.38L899.05 603.3L904.24 611.96L909.44 621.48L913.77 633.61L918.1 645.73L923.29 655.25L927.62 663.04L931.95 671.7L936.28 679.49L940.61 685.55L944.94 689.88L948.4 690.4L951.86 688.15L956.19 683.82L961.39 678.63L966.58 675.16L973.51 670.84L979.57 666.51L985.63 661.66L991.69 656.46L997.75 650.92L1003.81 644.86L1009.87 639.67L1016.8 636.2L1023.72 635.68L1030.65 636.2L1036.71 633.95L1040 633.19L1044.84 631.98L1049.67 631.73L1054.51 631.98L1059.34 631.01L1064.18 628.95L1069.01 626.54L1073.85 622.91L1078.68 618.68L1083.52 614.81L1088.35 610.82L1093.19 608.04L1098.02 606.59L1102.86 605.99L1107.69 605.99L1112.53 606.59L1117.36 607.2L1122.2 607.56L1127.03 608.04L1131.87 609.61L1136.7 611.67L1141.54 613.24L1146.37 614.21L1151.21 615.05L1156.04 615.66L1160.88 615.9L1165.71 615.66L1170.55 615.3L1175.38 615.05L1180.22 614.69L1183 614.81" stroke="#ff7620" stroke-width="1.2" fill="none" stroke-linejoin="round"/><g stroke="#000" stroke-width="2.2" stroke-linecap="round" stroke-linejoin="round" fill="none"><path d="M76.8 468.2L321.7 440.4"/><path d="M83.1 618L277.4 663.9"/><path stroke-width="2" d="M241.8 376.9L316 277.7M301.6 280.3L316 277.7L317.9 292.1"/></g><g font-family="'Liberation Sans', sans-serif" font-size="12"><text x="6.2" y="510.8" textLength="32.3" lengthAdjust="spacingAndGlyphs" fill="#131722" stroke="#131722" stroke-width="0.25">MACD</text><text x="42.4" y="510.8" textLength="63.8" lengthAdjust="spacingAndGlyphs" fill="#50535e" stroke="#50535e" stroke-width="0.25">12 26 close</text><text x="115.4" y="510.8" textLength="37.3" lengthAdjust="spacingAndGlyphs" fill="#ffcdd2" stroke="#ffcdd2" stroke-width="0.25">−0.085</text><text x="160.4" y="510.8" textLength="37.4" lengthAdjust="spacingAndGlyphs" fill="#2962ff" stroke="#2962ff" stroke-width="0.25">−0.275</text><text x="205" y="510.8" textLength="37.9" lengthAdjust="spacingAndGlyphs" fill="#ff6d00" stroke="#ff6d00" stroke-width="0.25">−0.190</text></g><text x="617" y="463" font-family="'Liberation Sans', 'DejaVu Sans', sans-serif" font-size="20" fill="#000" text-anchor="middle" direction="rtl">دايفرجنس مخفي ايجابي</text></svg></body></html>
